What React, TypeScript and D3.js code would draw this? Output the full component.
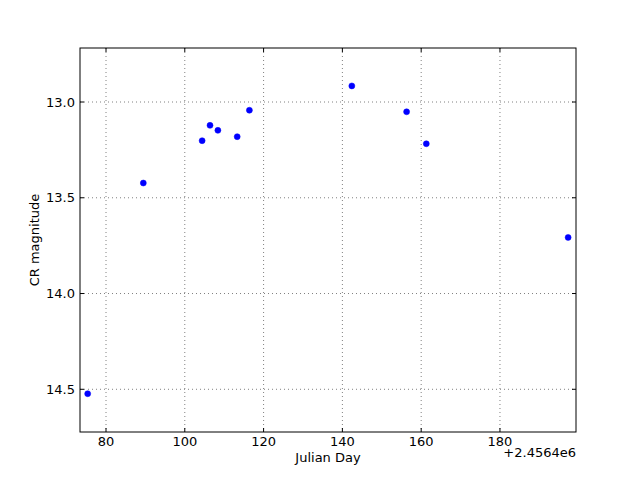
import React from "react";
import * as d3 from "d3";

const jd = [75.35, 89.47, 104.4, 106.4, 108.4, 113.3, 116.4, 142.4, 156.3, 161.3, 197.3];
const mag = [14.523, 13.423, 13.202, 13.122, 13.148, 13.181, 13.043, 12.916, 13.051, 13.218, 13.707];
const xTicks = [80, 100, 120, 140, 160, 180];
const yTicks = [13.0, 13.5, 14.0, 14.5];
const offsetText = "+2.4564e6";

const W = 640, H = 480;
const L = 80, R = 576, T = 48, B = 432;
const FONT = "DejaVu Sans, sans-serif";

export default function App() {
  const x = d3.scaleLinear().domain([73.4, 199.3]).range([L, R]);
  const y = d3.scaleLinear().domain([12.718, 14.723]).range([T, B]);
  const tl = 4;
  return (
    <svg width={W} height={H} style={{ position: "absolute", left: 0, top: 0, background: "#fff" }}>
      <rect x={0} y={0} width={W} height={H} fill="#fff" />
      {xTicks.map((t) => (
        <line key={"gx" + t} x1={x(t)} x2={x(t)} y1={T} y2={B} stroke="#808080" strokeWidth={1} strokeDasharray="1,3" />
      ))}
      {yTicks.map((t) => (
        <line key={"gy" + t} x1={L} x2={R} y1={y(t)} y2={y(t)} stroke="#808080" strokeWidth={1} strokeDasharray="1,3" />
      ))}
      {jd.map((d, i) => (
        <circle key={i} cx={x(d)} cy={y(mag[i])} r={3} fill="#0000ff" stroke="#0000ff" strokeWidth={0.5} />
      ))}
      <rect x={L} y={T} width={R - L} height={B - T} fill="none" stroke="#000" strokeWidth={1} />
      {xTicks.map((t) => (
        <g key={"tx" + t}>
          <line x1={x(t)} x2={x(t)} y1={B} y2={B - tl} stroke="#000" />
          <line x1={x(t)} x2={x(t)} y1={T} y2={T + tl} stroke="#000" />
          <text x={x(t)} y={446} textAnchor="middle" fontFamily={FONT} fontSize={13}>{t}</text>
        </g>
      ))}
      {yTicks.map((t) => (
        <g key={"ty" + t}>
          <line x1={L} x2={L + tl} y1={y(t)} y2={y(t)} stroke="#000" />
          <line x1={R} x2={R - tl} y1={y(t)} y2={y(t)} stroke="#000" />
          <text x={75} y={y(t)} dy="0.35em" textAnchor="end" fontFamily={FONT} fontSize={13}>{t.toFixed(1)}</text>
        </g>
      ))}
      <text x={576} y={457} textAnchor="end" fontFamily={FONT} fontSize={13}>{offsetText}</text>
      <text x={(L + R) / 2} y={462} textAnchor="middle" fontFamily={FONT} fontSize={13}>Julian Day</text>
      <text transform={`translate(39,${(T + B) / 2}) rotate(-90)`} textAnchor="middle" fontFamily={FONT} fontSize={13}>CR magnitude</text>
    </svg>
  );
}
